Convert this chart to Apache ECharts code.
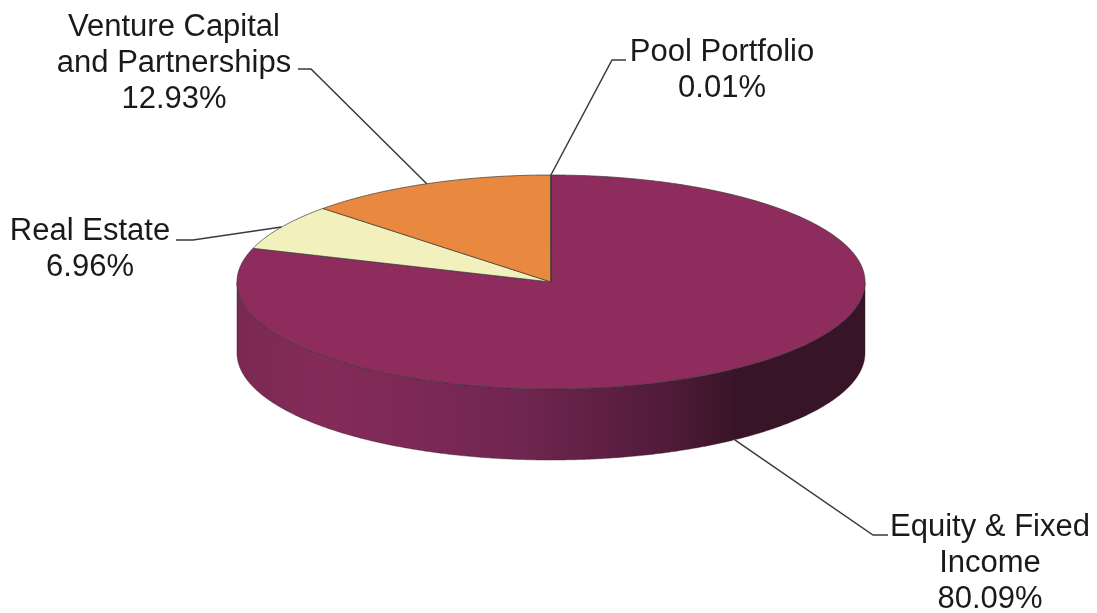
<!DOCTYPE html>
<html>
<head>
<meta charset="utf-8">
<title>Portfolio allocation</title>
<script src="https://cdn.jsdelivr.net/npm/echarts@6/dist/echarts.min.js"></script>
<style>
  html, body { margin: 0; padding: 0; background: #fff; }
  #chart { width: 1097px; height: 613px; }
</style>
</head>
<body>
<div id="chart"></div>
<script>
// slices run clockwise from 12 o'clock
const categories = ['Equity & Fixed\nIncome', 'Real Estate', 'Venture Capital\nand Partnerships', 'Pool Portfolio'];
const shares = [80.09, 6.96, 12.93, 0.01];
const sliceColors = ['#8e2d5d', '#f2f1bd', '#e9883f', '#8e2d5d'];

// label block centre and the leader elbow + end, in px
const labelPos = [[990, 563], [90, 249], [174, 63], [722, 70]];
const leaderElbow = [[873, 535], [193, 240], [311, 69], [612, 60]];
const leaderEnd = [[888, 535], [176, 240], [298, 69], [626, 60]];

const cx = 551, cy = 282, rx = 314, ry = 107, depth = 71;
const total = shares.reduce((a, b) => a + b, 0);
const rimPoint = (deg, dy) => {
  const t = deg * Math.PI / 180;
  return [cx + rx * Math.sin(t), cy - ry * Math.cos(t) + (dy || 0)];
};
const arc = (from, to, dy) => {
  const pts = [];
  const n = Math.max(1, Math.ceil(Math.abs(to - from) * 2));
  for (let i = 0; i <= n; i++) pts.push(rimPoint(from + (to - from) * i / n, dy));
  return pts;
};

const wallFill = new echarts.graphic.LinearGradient(0, 0, 1, 0, [
  { offset: 0, color: '#7a2953' },
  { offset: 0.14, color: '#852b59' },
  { offset: 0.45, color: '#702650' },
  { offset: 0.68, color: '#521b3a' },
  { offset: 0.8, color: '#381427' },
  { offset: 1, color: '#381428' }
]);

const renderSlice = (params, api) => {
  const i = params.dataIndex;
  const before = shares.slice(0, i).reduce((a, b) => a + b, 0);
  const start = before / total * 360;
  const end = (before + api.value(0)) / total * 360;
  const mid = (start + end) / 2;
  const children = [];

  // side wall only shows on the front half of the disc
  const wallFrom = Math.max(start, 90), wallTo = Math.min(end, 270);
  if (wallTo > wallFrom) {
    children.push({
      type: 'polygon',
      shape: { points: arc(wallFrom, wallTo, 0).concat(arc(wallTo, wallFrom, depth)) },
      style: { fill: wallFill, stroke: '#2a0f1e', lineWidth: 0.4 }
    });
  }

  children.push({
    type: 'polygon',
    shape: { points: [[cx, cy]].concat(arc(start, end, 0)) },
    style: { fill: sliceColors[i], stroke: '#3a3a3a', lineWidth: 0.7 }
  });

  // the big slice's anchor sits on the wall below its rim
  const anchor = rimPoint(mid, mid > 90 && mid < 270 ? depth : 0);
  children.push({
    type: 'polyline',
    shape: { points: [anchor, leaderElbow[i], leaderEnd[i]] },
    style: { fill: 'none', stroke: '#3a3a3a', lineWidth: 1.5 }
  });
  children.push({
    type: 'text',
    style: {
      text: categories[i] + '\n' + shares[i].toFixed(2) + '%',
      x: labelPos[i][0],
      y: labelPos[i][1],
      align: 'center',
      verticalAlign: 'middle',
      font: '31px "Liberation Sans", Arial, sans-serif',
      lineHeight: 36,
      fill: '#1a1a1a'
    }
  });
  return { type: 'group', children };
};

const chart = echarts.init(document.getElementById('chart'));
chart.setOption({
  backgroundColor: '#fff',
  animation: false,
  series: [{
    type: 'custom',
    coordinateSystem: 'none',
    renderItem: renderSlice,
    data: shares.map((v, i) => ({ name: categories[i], value: [v] }))
  }]
});
</script>
</body>
</html>
